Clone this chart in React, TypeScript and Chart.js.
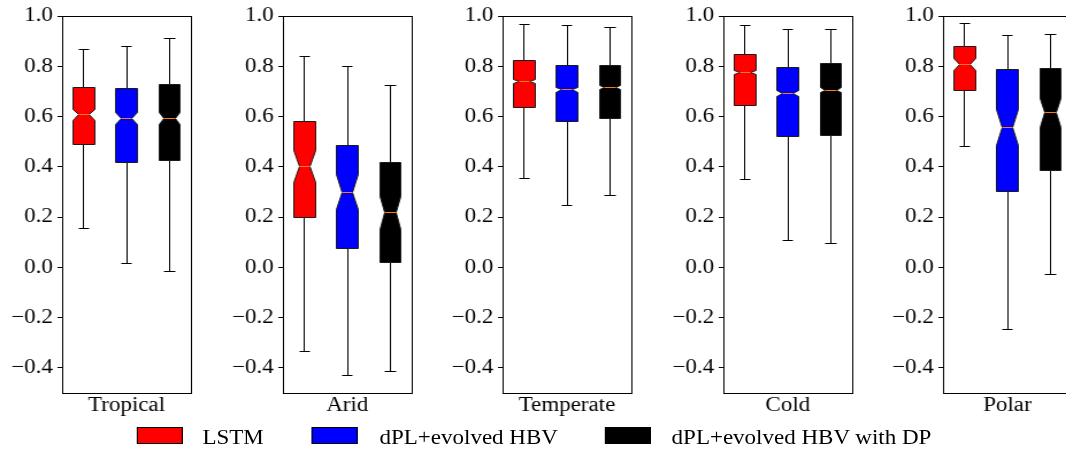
import React, { useEffect, useRef } from 'react';
import { Chart, registerables } from 'chart.js';

Chart.register(...registerables);

const categories = ['Tropical', 'Arid', 'Temperate', 'Cold', 'Polar'];
const seriesNames = ['LSTM', 'dPL+evolved HBV', 'dPL+evolved HBV with DP'];
const seriesColors = ['#ff0000', '#0000ff', '#000000'];
const yTicks = [-0.4, -0.2, 0.0, 0.2, 0.4, 0.6, 0.8, 1.0];

// each entry: [whiskerLow, q1, notchLow, median, notchHigh, q3, whiskerHigh]
const lstmStats = [
  [0.154, 0.49, 0.583, 0.607, 0.628, 0.715, 0.865],
  [-0.335, 0.199, 0.338, 0.403, 0.464, 0.579, 0.838],
  [0.354, 0.634, 0.731, 0.74, 0.749, 0.822, 0.966],
  [0.351, 0.644, 0.768, 0.776, 0.785, 0.848, 0.962],
  [0.48, 0.704, 0.782, 0.806, 0.83, 0.877, 0.971],
];
const dplStats = [
  [0.015, 0.418, 0.569, 0.591, 0.615, 0.711, 0.877],
  [-0.432, 0.076, 0.23, 0.298, 0.371, 0.486, 0.798],
  [0.246, 0.579, 0.697, 0.707, 0.717, 0.804, 0.961],
  [0.105, 0.519, 0.68, 0.692, 0.704, 0.797, 0.947],
  [-0.247, 0.302, 0.486, 0.555, 0.628, 0.788, 0.922],
];
const dplDpStats = [
  [-0.016, 0.425, 0.569, 0.593, 0.616, 0.727, 0.911],
  [-0.413, 0.02, 0.15, 0.218, 0.283, 0.417, 0.725],
  [0.284, 0.594, 0.707, 0.716, 0.725, 0.802, 0.953],
  [0.096, 0.523, 0.695, 0.705, 0.715, 0.812, 0.947],
  [-0.029, 0.385, 0.558, 0.618, 0.672, 0.79, 0.927],
];
const allStats = [lstmStats, dplStats, dplDpStats];

const FONT = "'Liberation Serif', 'Times New Roman', serif";
const SX = 1.15;
const CANVAS_W = 176;
const CANVAS_H = 425;
const canvasLefts = [0, 192, 383, 575, 766];

const snap = (v: number) => Math.round(v - 0.5) + 0.5;

const notchedBoxPlugin = {
  id: 'notchedBox',
  afterDatasetsDraw(chart: any) {
    const { ctx } = chart;
    const xs = chart.scales.x;
    const ys = chart.scales.y;
    const px = (v: number) => snap(xs.getPixelForValue(v));
    const py = (v: number) => snap(ys.getPixelForValue(v));
    chart.data.datasets.forEach((ds: any) => {
      const s = ds.stats as number[];
      const pos = ds.data[0].x as number;
      const w = 0.5;
      const xl = px(pos - w / 2);
      const xr = px(pos + w / 2);
      const nl = px(pos - w / 4);
      const nr = px(pos + w / 4);
      const xc = px(pos);
      ctx.save();
      ctx.lineWidth = 1;
      ctx.strokeStyle = '#000';
      ctx.beginPath();
      ctx.moveTo(xc, py(s[5]));
      ctx.lineTo(xc, py(s[6]));
      ctx.moveTo(xc, py(s[1]));
      ctx.lineTo(xc, py(s[0]));
      ctx.moveTo(nl, py(s[6]));
      ctx.lineTo(nr, py(s[6]));
      ctx.moveTo(nl, py(s[0]));
      ctx.lineTo(nr, py(s[0]));
      ctx.stroke();

      ctx.beginPath();
      ctx.moveTo(xl, py(s[1]));
      ctx.lineTo(xr, py(s[1]));
      ctx.lineTo(xr, py(s[2]));
      ctx.lineTo(nr, py(s[3]));
      ctx.lineTo(xr, py(s[4]));
      ctx.lineTo(xr, py(s[5]));
      ctx.lineTo(xl, py(s[5]));
      ctx.lineTo(xl, py(s[4]));
      ctx.lineTo(nl, py(s[3]));
      ctx.lineTo(xl, py(s[2]));
      ctx.closePath();
      ctx.fillStyle = ds.backgroundColor;
      ctx.fill();
      ctx.strokeStyle = '#1a1a1a';
      ctx.stroke();

      ctx.strokeStyle = '#ff7f0e';
      ctx.beginPath();
      ctx.moveTo(nl, py(s[3]));
      ctx.lineTo(nr, py(s[3]));
      ctx.stroke();
      ctx.restore();
    });
  },
  afterDraw(chart: any) {
    const { ctx, chartArea } = chart;
    ctx.save();
    ctx.strokeStyle = '#000';
    ctx.lineWidth = 1;
    ctx.strokeRect(
      snap(chartArea.left),
      snap(chartArea.top),
      Math.round(chartArea.right - chartArea.left),
      Math.round(chartArea.bottom - chartArea.top)
    );
    ctx.restore();
  },
};

function Panel({ idx }: { idx: number }) {
  const ref = useRef<HTMLCanvasElement>(null);
  useEffect(() => {
    const canvas = ref.current;
    if (!canvas) return;
    const chart = new Chart(canvas, {
      type: 'scatter',
      data: {
        datasets: allStats.map((stats, si) => ({
          label: seriesNames[si],
          data: [{ x: si + 1, y: stats[idx][3] }],
          stats: stats[idx],
          backgroundColor: seriesColors[si],
          borderColor: '#000',
          pointRadius: 0,
          pointHoverRadius: 0,
        })) as any,
      },
      options: {
        animation: false,
        responsive: false,
        devicePixelRatio: 1,
        events: [],
        layout: { padding: { top: 16, right: 10, bottom: 0, left: 0 } },
        plugins: {
          legend: { display: false },
          tooltip: { enabled: false },
          title: { display: false },
        },
        scales: {
          x: {
            type: 'linear',
            min: 0.5,
            max: 3.5,
            ticks: { display: false },
            grid: { display: false },
            border: { display: false },
            title: {
              display: true,
              text: categories[idx],
              color: '#000',
              font: { family: FONT, size: 20 },
              padding: { top: 0, bottom: 7 },
            },
            afterFit: (scale: any) => {
              scale.height = 32;
            },
          },
          y: {
            type: 'linear',
            min: -0.5,
            max: 1.0,
            afterBuildTicks: (scale: any) => {
              scale.ticks = yTicks.map((v) => ({ value: v }));
            },
            afterFit: (scale: any) => {
              scale.width = 54;
            },
            ticks: {
              color: '#000',
              font: { family: FONT, size: 20 },
              padding: 4,
              autoSkip: false,
              callback: (v: any) => {
                const n = Number(v);
                const t = Math.abs(n).toFixed(1);
                return n < -1e-9 ? '\u2212' + t : t;
              },
            },
            grid: {
              display: true,
              drawOnChartArea: false,
              drawTicks: true,
              tickLength: 4,
              color: '#000',
              lineWidth: 1,
            },
            border: { display: false },
          },
        },
      },
      plugins: [notchedBoxPlugin],
    });
    return () => chart.destroy();
  }, [idx]);
  return (
    <canvas
      ref={ref}
      width={CANVAS_W}
      height={CANVAS_H}
      style={{ position: 'absolute', left: canvasLefts[idx], top: 0, width: CANVAS_W, height: CANVAS_H }}
    />
  );
}

const legendBoxLefts = [119, 271, 526];
const legendTextLefts = [176, 330, 584];

export default function App() {
  return (
    <div
      style={{
        position: 'fixed',
        left: 0,
        top: 0,
        width: 1066,
        height: 449,
        overflow: 'hidden',
        background: '#fff',
      }}
    >
      <div
        style={{
          position: 'absolute',
          left: 0,
          top: 0,
          width: Math.ceil(1066 / SX) + 30,
          height: 449,
          transform: `scaleX(${SX})`,
          transformOrigin: '0 0',
        }}
      >
        {categories.map((_, i) => (
          <Panel key={i} idx={i} />
        ))}
        {seriesNames.map((name, i) => (
          <React.Fragment key={name}>
            <div
              style={{
                position: 'absolute',
                left: legendBoxLefts[i],
                top: 427,
                width: 40,
                height: 17,
                background: seriesColors[i],
                border: '1px solid #000',
                boxSizing: 'border-box',
              }}
            />
            <span
              style={{
                position: 'absolute',
                left: legendTextLefts[i],
                top: 427,
                fontFamily: FONT,
                fontSize: 20,
                lineHeight: '20px',
                color: '#000',
                whiteSpace: 'nowrap',
              }}
            >
              {name}
            </span>
          </React.Fragment>
        ))}
      </div>
    </div>
  );
}
